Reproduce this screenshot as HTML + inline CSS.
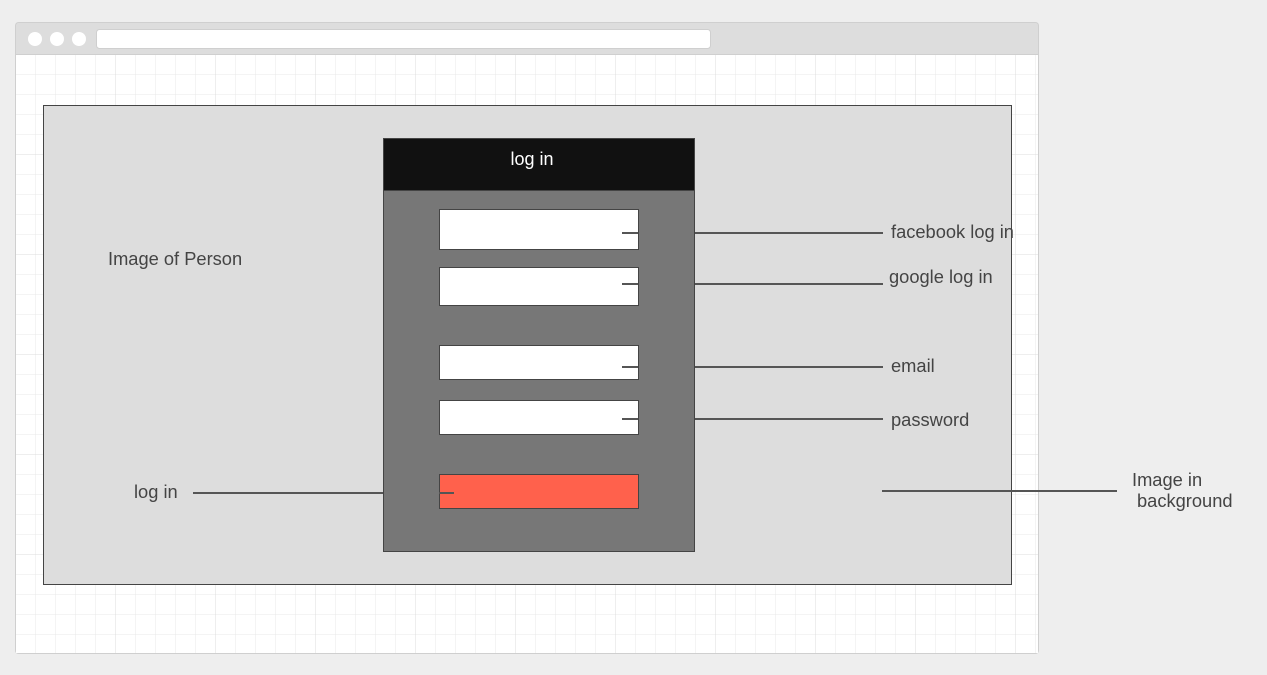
<!DOCTYPE html>
<html><head><style>
body{margin:0;background:#eeeeee;width:1267px;height:675px;overflow:hidden;font-family:"Liberation Sans",sans-serif;}
</style></head><body>
<svg width="1267" height="675" xmlns="http://www.w3.org/2000/svg" style="position:absolute;left:0;top:0">
<defs>
<pattern id="minor" x="15.5" y="54.5" width="20" height="20" patternUnits="userSpaceOnUse">
<path d="M20 0V20M0 20H20" stroke="#e8e8e8" stroke-width="1" fill="none"/>
</pattern>
<pattern id="major" x="15.5" y="54.5" width="100" height="100" patternUnits="userSpaceOnUse">
<path d="M100 0V100M0 100H100" stroke="#dcdcdc" stroke-width="1" fill="none"/>
</pattern>
</defs>
<rect x="15.5" y="22.5" width="1023" height="631" rx="3" fill="#dddddd" stroke="#cfcfcf"/>
<rect x="16" y="54" width="1022" height="599" fill="#ffffff"/>
<rect x="16" y="54" width="1022" height="599" fill="url(#minor)"/>
<rect x="16" y="54" width="1022" height="599" fill="url(#major)"/>
<line x1="16" y1="54.5" x2="1038" y2="54.5" stroke="#cfcfcf"/>
<circle cx="35" cy="39" r="7" fill="#fff"/>
<circle cx="57" cy="39" r="7" fill="#fff"/>
<circle cx="79" cy="39" r="7" fill="#fff"/>
<rect x="96.5" y="29.5" width="614" height="19" rx="3" fill="#fff" stroke="#cfcfcf"/>

<rect x="43.5" y="105.5" width="968" height="479" fill="#dddddd" stroke="#444"/>
<rect x="383.5" y="138.5" width="311" height="413" fill="#777777" stroke="#444"/>
<rect x="383.5" y="138.5" width="311" height="52" fill="#111111" stroke="#444"/>
<text x="532" y="165" fill="#fff" font-size="18" text-anchor="middle" font-family="Liberation Sans,sans-serif">log in</text>

<rect x="439.5" y="209.5" width="199" height="40" fill="#fff" stroke="#444"/>
<rect x="439.5" y="267.5" width="199" height="38" fill="#fff" stroke="#444"/>
<rect x="439.5" y="345.5" width="199" height="34" fill="#fff" stroke="#444"/>
<rect x="439.5" y="400.5" width="199" height="34" fill="#fff" stroke="#444"/>
<rect x="439.5" y="474.5" width="199" height="34" fill="#ff614c" stroke="#444"/>

<g stroke="#555" stroke-width="2">
<line x1="622" y1="233" x2="638" y2="233"/><line x1="695" y1="233" x2="883" y2="233"/>
<line x1="622" y1="284" x2="638" y2="284"/><line x1="695" y1="284" x2="883" y2="284"/>
<line x1="622" y1="367" x2="638" y2="367"/><line x1="695" y1="367" x2="883" y2="367"/>
<line x1="622" y1="419" x2="638" y2="419"/><line x1="695" y1="419" x2="883" y2="419"/>
<line x1="193" y1="493" x2="383" y2="493"/><line x1="439" y1="493" x2="454" y2="493"/>
<line x1="882" y1="491" x2="1117" y2="491"/>
</g>
<g fill="#444" font-size="18.3" font-family="Liberation Sans,sans-serif">
<text x="891" y="238">facebook log in</text>
<text x="889" y="283">google log in</text>
<text x="891" y="372">email</text>
<text x="891" y="426">password</text>
<text x="108" y="265">Image of Person</text>
<text x="134" y="498">log in</text>
<text x="1132" y="486">Image in</text>
<text x="1137" y="507">background</text>
</g>
</svg>
</body></html>
